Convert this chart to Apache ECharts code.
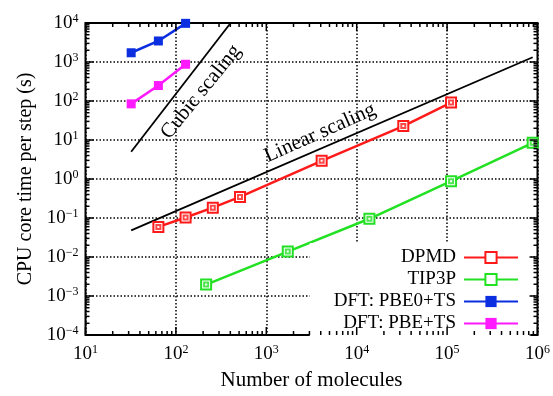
<!DOCTYPE html>
<html>
<head>
<meta charset="utf-8">
<script src="https://cdn.jsdelivr.net/npm/echarts@6/dist/echarts.min.js"></script>
<style>html,body{margin:0;padding:0;background:#fff}#c{width:553px;height:396px}</style>
</head>
<body>
<div id="c"></div>
<script>
// ---- data ----
const dpmdN = [64, 128, 256, 512, 4096, 32768, 110592];
const dpmdT = [0.059, 0.103, 0.184, 0.348, 2.92, 22.7, 91];
const tip3pN = [216, 1728, 13824, 110592, 884736];
const tip3pT = [0.00196, 0.0138, 0.0955, 0.88, 8.45];
const pbe0N = [32, 64, 128];
const pbe0T = [1725, 3460, 9800];
const pbeN = [32, 64, 128];
const pbeT = [84.5, 249, 875];
const linearN = [32, 884736];
const linearT = [0.048, 1327];
const cubicN = [32, 403];
const cubicT = [5, 10000];
const xMajor = [10, 100, 1000, 10000, 100000, 1000000];
const yMajor = [1e-4, 1e-3, 1e-2, 1e-1, 1, 10, 100, 1000, 10000];
const seriesNames = ['DPMD', 'TIP3P', 'DFT: PBE0+TS', 'DFT: PBE+TS'];

function minorTicks(major) {
  const out = [];
  for (let i = 0; i < major.length - 1; i++) {
    for (let k = 2; k <= 9; k++) out.push(+(major[i] * k).toPrecision(6));
  }
  return out;
}
const xMinor = minorTicks(xMajor);
const yMinor = minorTicks(yMajor);
const zip = (a, b) => a.map((v, i) => [v, b[i]]);
const MAJOR_LEN = 8, MINOR_LEN = 4;
const xMin = 10, xMax = 1e6, yMin = 1e-4, yMax = 1e4;
// tick rows: [x value, y value, tick length]
const xTickData = xMajor.map(v => [v, 1, MAJOR_LEN]).concat(xMinor.map(v => [v, 1, MINOR_LEN]));
const yTickData = yMajor.map(v => [100, v, MAJOR_LEN]).concat(yMinor.map(v => [100, v, MINOR_LEN]));

const FONT = '"Liberation Serif", "DejaVu Serif", serif';
function supLabel(v) {
  const e = Math.round(Math.log10(v));
  const s = e < 0 ? '\u2212' + (-e) : '' + e;
  return '{b|10}{s|' + s + '}';
}
const labelRich = {
  b: { fontSize: 19, fontFamily: FONT, color: '#000' },
  s: { fontSize: 12, fontFamily: FONT, color: '#000', padding: [0, 0, 9, 0] }
};

// mirrored inside ticks on all four sides, positioned through the axes' scales
function xTickRender(params, api) {
  const cs = params.coordSys;
  const x = api.coord([api.value(0), api.value(1)])[0];
  const len = api.value(2);
  const b = cs.y + cs.height, t = cs.y;
  return { type: 'group', children: [
    { type: 'line', shape: { x1: x, y1: b, x2: x, y2: b - len }, style: { stroke: '#000', lineWidth: 1.5, fill: null } },
    { type: 'line', shape: { x1: x, y1: t, x2: x, y2: t + len }, style: { stroke: '#000', lineWidth: 1.5, fill: null } }
  ] };
}
function yTickRender(params, api) {
  const cs = params.coordSys;
  const y = api.coord([api.value(0), api.value(1)])[1];
  const len = api.value(2);
  const l = cs.x, r = cs.x + cs.width;
  return { type: 'group', children: [
    { type: 'line', shape: { x1: l, y1: y, x2: l + len, y2: y }, style: { stroke: '#000', lineWidth: 1.5, fill: null } },
    { type: 'line', shape: { x1: r, y1: y, x2: r - len, y2: y }, style: { stroke: '#000', lineWidth: 1.5, fill: null } }
  ] };
}

const chart = echarts.init(document.getElementById('c'), null, { renderer: 'canvas' });
const red = '#ff1a1a', green = '#22e022', blue = '#0a2ee0', magenta = '#ff19ff';
const openSq = { symbol: 'emptyRect', symbolSize: 10 };

chart.setOption({
  animation: false,
  backgroundColor: '#fff',
  grid: { left: 85.5, right: 13, top: 23, bottom: 55.5, show: true, borderColor: '#000', borderWidth: 2, backgroundColor: 'transparent' },
  xAxis: {
    type: 'log', logBase: 10, min: xMin, max: xMax, splitNumber: 5, position: 'bottom',
    name: 'Number of molecules', nameLocation: 'middle', nameGap: 35,
    nameTextStyle: { fontSize: 21, fontFamily: FONT, color: '#000' },
    axisLine: { show: false }, axisTick: { show: false },
    axisLabel: { customValues: xMajor, formatter: supLabel, rich: labelRich, margin: 9 },
    splitLine: { show: true, lineStyle: { color: '#000', width: 1.5, type: [1.5, 2] } }
  },
  yAxis: {
    type: 'log', logBase: 10, min: yMin, max: yMax, splitNumber: 8, position: 'left',
    name: 'CPU core time per step (s)', nameLocation: 'middle', nameGap: 50,
    nameTextStyle: { fontSize: 20, fontFamily: FONT, color: '#000' },
    axisLine: { show: false }, axisTick: { show: false },
    axisLabel: { customValues: yMajor, formatter: supLabel, rich: labelRich, margin: 7 },
    splitLine: { show: true, lineStyle: { color: '#000', width: 1.5, type: [1.5, 2] } }
  },
  legend: {
    orient: 'vertical', align: 'right', right: 22, top: 243,
    data: seriesNames, itemWidth: 54, itemHeight: 14, itemGap: 3,
    backgroundColor: '#fff', padding: [5, 12, 4, 24], z: 3,
    textStyle: { fontSize: 19, fontFamily: FONT, color: '#000', padding: [0, 3, 0, 0] }
  },
  series: [
    { name: 'Linear scaling', type: 'line', data: zip(linearN, linearT), symbol: 'none', silent: true,
      lineStyle: { color: '#000', width: 1.8 }, itemStyle: { color: '#000' }, z: 1 },
    { name: 'Cubic scaling', type: 'line', data: zip(cubicN, cubicT), symbol: 'none', silent: true,
      lineStyle: { color: '#000', width: 1.8 }, itemStyle: { color: '#000' }, z: 1 },
    { name: 'DPMD', type: 'line', data: zip(dpmdN, dpmdT), ...openSq,
      lineStyle: { color: red, width: 2.5 }, itemStyle: { color: red, borderWidth: 2 }, z: 2 },
    { name: 'TIP3P', type: 'line', data: zip(tip3pN, tip3pT), ...openSq,
      lineStyle: { color: green, width: 2.5 }, itemStyle: { color: green, borderWidth: 2 }, z: 2 },
    { name: 'DFT: PBE0+TS', type: 'line', data: zip(pbe0N, pbe0T), symbol: 'rect', symbolSize: 9,
      lineStyle: { color: blue, width: 2.5 }, itemStyle: { color: blue }, z: 2 },
    { name: 'DFT: PBE+TS', type: 'line', data: zip(pbeN, pbeT), symbol: 'rect', symbolSize: 9,
      lineStyle: { color: magenta, width: 2.5 }, itemStyle: { color: magenta }, z: 2 },
    { type: 'scatter', data: zip(dpmdN, dpmdT), symbol: 'emptyRect', symbolSize: 4, silent: true,
      itemStyle: { color: red, borderWidth: 1 }, z: 2 },
    { type: 'scatter', data: zip(tip3pN, tip3pT), symbol: 'emptyRect', symbolSize: 4, silent: true,
      itemStyle: { color: green, borderWidth: 1 }, z: 2 },
    { type: 'custom', data: xTickData, renderItem: xTickRender, encode: { x: 0, y: 1 }, silent: true, clip: false, z: 4 },
    { type: 'custom', data: yTickData, renderItem: yTickRender, encode: { x: 0, y: 1 }, silent: true, clip: false, z: 4 }
  ],
  graphic: [
    { type: 'text', x: 201, y: 92, rotation: 51 * Math.PI / 180, z: 20,
      style: { text: 'Cubic scaling', font: '21px ' + FONT, fill: '#000', align: 'center', verticalAlign: 'middle' } },
    { type: 'text', x: 320, y: 133, rotation: 24 * Math.PI / 180, z: 20,
      style: { text: 'Linear scaling', font: '21px ' + FONT, fill: '#000', align: 'center', verticalAlign: 'middle' } }
  ]
});
</script>
</body>
</html>
